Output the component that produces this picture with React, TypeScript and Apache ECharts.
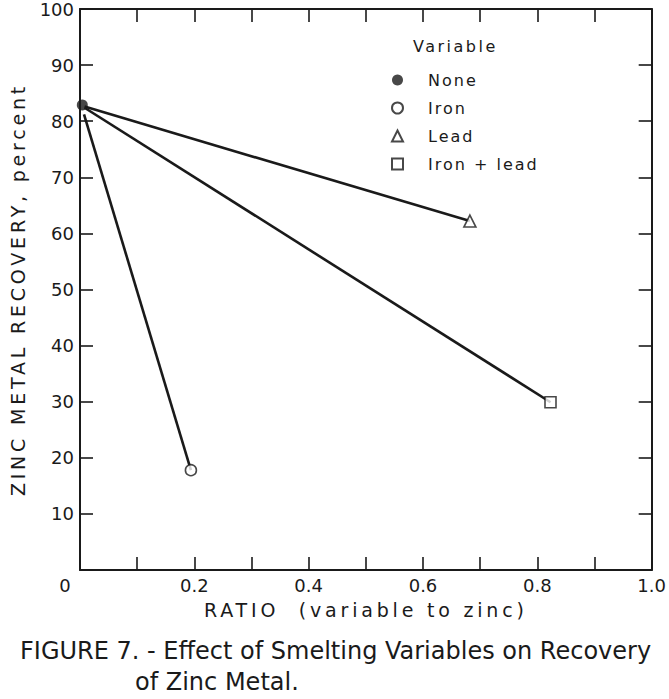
import React, { useEffect, useRef } from "react";
import * as echarts from "echarts";

// ---- data ----
const variableNames = ["None", "Iron", "Lead", "Iron + lead"];
const variableSymbols = ["circle", "circle", "triangle", "rect"];
const ratios = [0.004, 0.194, 0.682, 0.823];
const recoveries = [82.9, 17.8, 62.2, 29.9];
// start points of the connecting lines (Iron, Lead, Iron + lead)
const lineStartRatios = [0.007, 0.008, 0.008];
const lineStartRecoveries = [81.2, 82.6, 82.4];
const xTicks = [0, 0.2, 0.4, 0.6, 0.8, 1.0];

const FONT = "'DejaVu Sans', 'Noto Sans', sans-serif";
const INK = "#1a1a1a";

const Y_NAME = "ZINC METAL RECOVERY, percent";
const X_NAME = "RATIO  (variable to zinc)";
const LEGEND_TITLE = "Variable";

const mkAxisLine = () => ({ show: true, onZero: false, lineStyle: { color: INK, width: 2 } });
const mkTick = () => ({ show: true, inside: true, length: 13, lineStyle: { color: INK, width: 1.6 } });

export default function App() {
  const ref = useRef<HTMLDivElement>(null);
  useEffect(() => {
    if (!ref.current) return;
    const chart = echarts.init(ref.current, undefined, { renderer: "svg" });

    const lineSeries = [1, 2, 3].map((i) => ({
      type: "line",
      silent: true,
      symbol: "none",
      lineStyle: { color: INK, width: 2.6 },
      data: [
        [lineStartRatios[i - 1], lineStartRecoveries[i - 1]],
        [ratios[i], recoveries[i]],
      ],
      z: 2,
    }));

    const markerSeries = variableNames.map((name, i) => ({
      type: "scatter",
      name,
      symbol: variableSymbols[i],
      symbolSize: i === 2 ? 12 : 11,
      itemStyle:
        i === 0
          ? { color: INK, borderColor: INK, borderWidth: 0 }
          : { color: "#ffffff", borderColor: INK, borderWidth: 1.6 },
      data: [[ratios[i], recoveries[i]]],
      z: 5,
    }));

    chart.setOption({
      animation: false,
      backgroundColor: "#ffffff",
      grid: { left: 78, right: 17, top: 8, bottom: 129, containLabel: false },
      legend: {
        orient: "vertical",
        left: 391,
        top: 72,
        itemWidth: 11,
        itemHeight: 11,
        itemGap: 12,
        padding: 0,
        selectedMode: false,
        data: variableNames.map((n, i) => ({ name: n, icon: variableSymbols[i] })),
        textStyle: { fontFamily: FONT, fontSize: 16, color: INK, padding: [0, 0, 0, 20] },
      },
      xAxis: [
        {
          type: "value",
          min: 0,
          max: 1,
          interval: 0.1,
          name: X_NAME,
          nameLocation: "middle",
          nameGap: 30,
          nameTextStyle: { fontFamily: FONT, fontSize: 19, color: INK, verticalAlign: "top" },
          axisLine: mkAxisLine(),
          axisTick: mkTick(),
          splitLine: { show: false },
          axisLabel: {
            fontFamily: FONT,
            fontSize: 18,
            color: INK,
            margin: 6,
            formatter: (v: number) => {
              const t = xTicks.find((x) => Math.abs(x - v) < 1e-6);
              if (t === undefined) return "";
              if (t === 0) return "{z|0}";
              return t.toFixed(1);
            },
            rich: { z: { fontFamily: FONT, fontSize: 18, color: INK, padding: [0, 30, 0, 0] } },
          },
        },
        {
          type: "value",
          position: "top",
          min: 0,
          max: 1,
          interval: 0.1,
          axisLine: mkAxisLine(),
          axisTick: mkTick(),
          axisLabel: { show: false },
          splitLine: { show: false },
        },
      ],
      yAxis: [
        {
          type: "value",
          position: "left",
          min: 0,
          max: 100,
          interval: 10,
          name: Y_NAME,
          nameLocation: "middle",
          nameGap: 53,
          nameTextStyle: { fontFamily: FONT, fontSize: 19, color: INK },
          axisLine: mkAxisLine(),
          axisTick: mkTick(),
          splitLine: { show: false },
          axisLabel: {
            fontFamily: FONT,
            fontSize: 18,
            color: INK,
            margin: 6,
            formatter: (v: number) => (v === 0 ? "" : String(v)),
          },
        },
        {
          type: "value",
          position: "right",
          min: 0,
          max: 100,
          interval: 10,
          axisLine: mkAxisLine(),
          axisTick: mkTick(),
          axisLabel: { show: false },
          splitLine: { show: false },
        },
      ],
      graphic: [
        {
          type: "text",
          left: 413,
          top: 38,
          style: { text: LEGEND_TITLE, fontFamily: FONT, fontSize: 16, fill: INK },
        },
        {
          type: "text",
          left: 20,
          top: 639,
          style: {
            text: "FIGURE 7. - Effect of Smelting Variables on Recovery",
            fontFamily: FONT,
            fontSize: 24,
            fill: INK,
          },
        },
        {
          type: "text",
          left: 135,
          top: 670,
          style: { text: "of Zinc Metal.", fontFamily: FONT, fontSize: 24, fill: INK },
        },
      ],
      series: [...lineSeries, ...markerSeries],
    });

    // widen letter spacing of a few texts, like the spaced lettering of the figure
    const spacing: Record<string, string> = {
      [Y_NAME]: "3.8px",
      [X_NAME]: "3.8px",
      [LEGEND_TITLE]: "2.5px",
      None: "2px",
      Iron: "2px",
      Lead: "2px",
      "Iron + lead": "2px",
    };
    ref.current.querySelectorAll("text").forEach((t) => {
      const s = (t.textContent || "").trim();
      if (spacing[s]) (t as SVGTextElement).style.letterSpacing = spacing[s];
    });

    return () => chart.dispose();
  }, []);
  return (
    <div
      ref={ref}
      style={{ position: "fixed", left: 0, top: 0, width: 669, height: 699, background: "#fff" }}
    />
  );
}
